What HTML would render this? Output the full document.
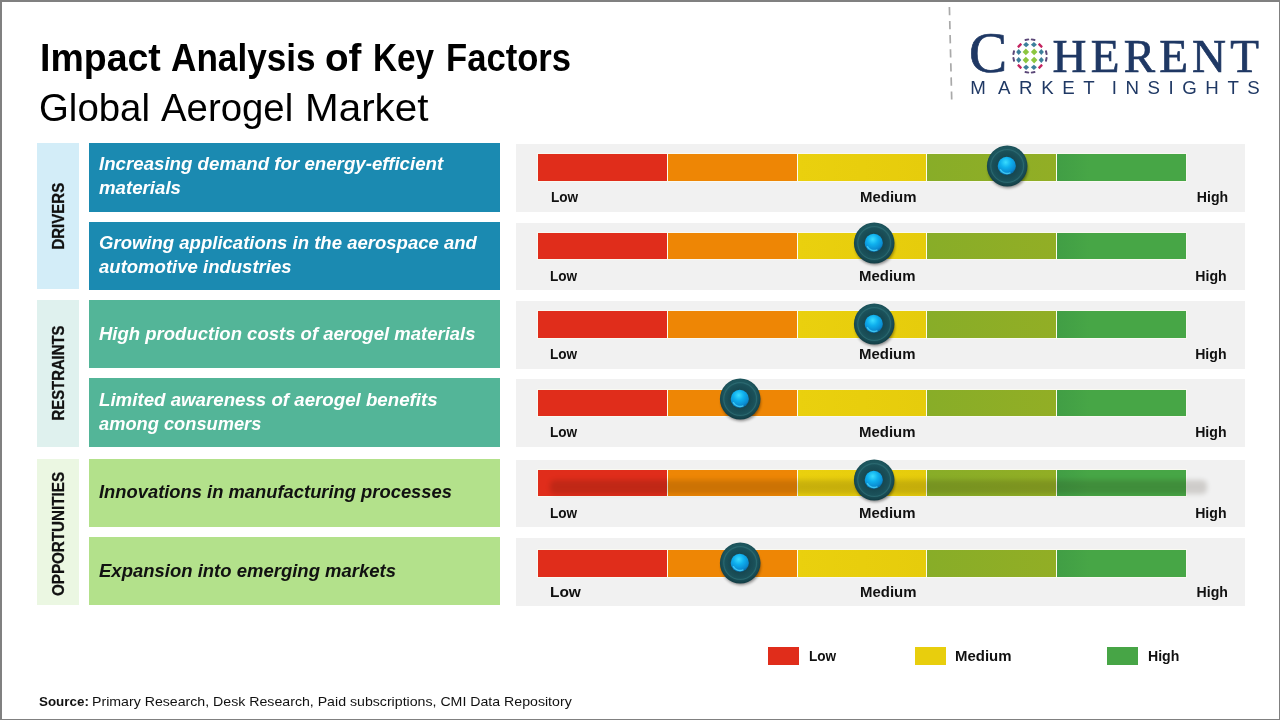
<!DOCTYPE html>
<html lang="en">
<head>
<meta charset="utf-8">
<title>Impact Analysis of Key Factors - Global Aerogel Market</title>
<style>
html,body{margin:0;padding:0;}
body{width:1280px;height:720px;position:relative;overflow:hidden;background:#fff;font-family:"Liberation Sans",sans-serif;color:#000;}
.abs{position:absolute;}
.frame{position:absolute;left:0;top:0;width:1280px;height:720px;box-sizing:border-box;border-style:solid;border-color:#808080;border-width:2px 1px 1px 2px;pointer-events:none;z-index:50;}
.t{position:absolute;white-space:nowrap;transform-origin:left top;line-height:1;}
#title{position:absolute;left:0;top:38.7px;font-size:38.6px;font-weight:bold;}
#subtitle{position:absolute;left:0;top:88.6px;font-size:38.2px;}
.cat{position:absolute;left:37.1px;width:41.8px;}
.cat span{position:absolute;left:50%;top:50%;white-space:nowrap;font-size:16.8px;font-weight:bold;-webkit-text-stroke:0.3px #111;line-height:1;transform:translate(calc(-50% + 1.3px),calc(-50% + var(--dy))) rotate(-90deg) scaleX(var(--k));color:#111;}
.lab{position:absolute;left:88.9px;width:411px;height:68px;}
.lab .t{left:10.2px;font-size:17.5px;transform:scaleX(1.062);font-weight:bold;font-style:italic;line-height:24px;}
.row{position:absolute;left:516.1px;width:728.6px;height:68px;background:#f1f1f1;}
.bar{position:absolute;left:538px;height:27px;width:648px;background:#fdfdf0;box-shadow:0 0 0 1px rgba(255,255,240,0.55);}
.bar i{position:absolute;top:0;height:100%;display:block;}
.s1{left:0;width:129px;background:#e02d1b;}
.s2{left:130px;width:128.5px;background:#ee8605;}
.s3{left:259.5px;width:128.5px;background:linear-gradient(90deg,#ead00e,#e6cc0c);}
.s4{left:389px;width:128.5px;background:linear-gradient(90deg,#88ad28,#92ae25);}
.s5{left:518.5px;width:129.5px;background:linear-gradient(90deg,#419e45,#47a646 25%);}
.lv{position:absolute;font-size:14.1px;font-weight:bold;white-space:nowrap;line-height:1;transform-origin:left top;color:#111;}
.lo{transform:scaleX(0.965);}.lo.big{font-size:15px;transform:scaleX(1.03);}.me{transform:scaleX(1.06);}.hi{transform:scaleX(1.0);}
.knob{position:absolute;width:48px;height:48px;margin:-24px 0 0 -24px;overflow:visible;}
.smear{position:absolute;left:550px;top:479.5px;width:657px;height:14px;background:#1a0d00;opacity:0.155;filter:blur(2.8px);border-radius:5px;}
.lg{font-family:"Liberation Serif",serif;color:#1f3864;-webkit-text-stroke:0.7px #1f3864;}
#lgC{left:969px;top:24.3px;font-size:58px;transform:scaleX(0.985);}
#lgH{left:1052.6px;top:33.2px;font-size:47px;transform:scaleX(1.0);letter-spacing:4.2px;}
#lgM{left:970.3px;top:79.4px;font-size:18.7px;color:#1f3864;letter-spacing:8.55px;}
.src{top:694.6px;font-size:13.2px;color:#111;}
</style>
</head>
<body>
<div id="title"><span class="t" style="left:39.76px;transform:scaleX(0.972)">Impact</span> <span class="t" style="left:170.7px;transform:scaleX(0.911)">Analysis</span> <span class="t" style="left:325.0px;transform:scaleX(1.001)">of</span> <span class="t" style="left:372.8px;transform:scaleX(0.864)">Key</span> <span class="t" style="left:446.01px;transform:scaleX(0.897)">Factors</span></div>
<div id="subtitle"><span class="t" style="left:38.5px;transform:scaleX(1.005)">Global</span> <span class="t" style="left:161.3px;transform:scaleX(1.004)">Aerogel</span> <span class="t" style="left:304.8px;transform:scaleX(1.058)">Market</span></div>

<!-- logo -->
<svg class="abs" style="left:940px;top:0" width="20" height="110"><line x1="9.4" y1="6.9" x2="11.7" y2="99.4" stroke="#a9a9a9" stroke-width="1.7" stroke-dasharray="8.3 5.8"/></svg>
<div class="t lg" id="lgC">C</div>
<div class="t lg" id="lgH">HERENT</div>
<div class="t" id="lgM"><span style="letter-spacing:12.2px">M</span>ARKET<span style="letter-spacing:3.4px"> </span>INSIGHTS</div>
<svg class="abs" id="globe" width="44" height="44" viewBox="-22 -22 44 44" style="left:1008.4px;top:33.8px"><path d="M-4.15 -7.3999999999999995L-0.8500000000000005 -4.1L-4.15 -0.7999999999999998L-7.45 -4.1Z" fill="#8cc640"/><path d="M-4.15 0.7999999999999998L-0.8500000000000005 4.1L-4.15 7.3999999999999995L-7.45 4.1Z" fill="#8cc640"/><path d="M4.15 -7.3999999999999995L7.45 -4.1L4.15 -0.7999999999999998L0.8500000000000005 -4.1Z" fill="#8cc640"/><path d="M4.15 0.7999999999999998L7.45 4.1L4.15 7.3999999999999995L0.8500000000000005 4.1Z" fill="#8cc640"/><path d="M-3.9 -13.9L-0.8999999999999999 -11.3L-3.9 -8.700000000000001L-6.9 -11.3Z" fill="#3d7f9b"/><path d="M-11.3 -6.9L-8.700000000000001 -3.9L-11.3 -0.8999999999999999L-13.9 -3.9Z" fill="#3d7f9b"/><path d="M-3.9 8.700000000000001L-0.8999999999999999 11.3L-3.9 13.9L-6.9 11.3Z" fill="#3d7f9b"/><path d="M-11.3 0.8999999999999999L-8.700000000000001 3.9L-11.3 6.9L-13.9 3.9Z" fill="#3d7f9b"/><path d="M3.9 -13.9L6.9 -11.3L3.9 -8.700000000000001L0.8999999999999999 -11.3Z" fill="#3d7f9b"/><path d="M11.3 -6.9L13.9 -3.9L11.3 -0.8999999999999999L8.700000000000001 -3.9Z" fill="#3d7f9b"/><path d="M3.9 8.700000000000001L6.9 11.3L3.9 13.9L0.8999999999999999 11.3Z" fill="#3d7f9b"/><path d="M11.3 0.8999999999999999L13.9 3.9L11.3 6.9L8.700000000000001 3.9Z" fill="#3d7f9b"/><rect x="-2.5" y="-1.2" width="5.0" height="2.4" rx="0.6" fill="#c4245f" transform="translate(-10.4 -10.5) rotate(-44.725859606266766)"/><rect x="-2.5" y="-1.2" width="5.0" height="2.4" rx="0.6" fill="#c4245f" transform="translate(-10.4 10.5) rotate(224.72585960626677)"/><rect x="-2.5" y="-1.2" width="5.0" height="2.4" rx="0.6" fill="#c4245f" transform="translate(10.4 -10.5) rotate(44.72585960626678)"/><rect x="-2.5" y="-1.2" width="5.0" height="2.4" rx="0.6" fill="#c4245f" transform="translate(10.4 10.5) rotate(135.2741403937332)"/><rect x="-2.3" y="-1.0" width="4.6" height="2.0" rx="0.6" fill="#5b4778" transform="translate(-3.1 -16.3) rotate(-10.768144561107846)"/><rect x="-2.3" y="-1.0" width="4.6" height="2.0" rx="0.6" fill="#5b4778" transform="translate(-16.3 -3.3) rotate(-78.554936221079)"/><rect x="-2.3" y="-1.0" width="4.6" height="2.0" rx="0.6" fill="#5b4778" transform="translate(-3.1 16.3) rotate(190.76814456110785)"/><rect x="-2.3" y="-1.0" width="4.6" height="2.0" rx="0.6" fill="#5b4778" transform="translate(-16.3 3.3) rotate(258.554936221079)"/><rect x="-2.3" y="-1.0" width="4.6" height="2.0" rx="0.6" fill="#5b4778" transform="translate(3.1 -16.3) rotate(10.768144561107832)"/><rect x="-2.3" y="-1.0" width="4.6" height="2.0" rx="0.6" fill="#5b4778" transform="translate(16.3 -3.3) rotate(78.55493622107899)"/><rect x="-2.3" y="-1.0" width="4.6" height="2.0" rx="0.6" fill="#5b4778" transform="translate(3.1 16.3) rotate(169.23185543889218)"/><rect x="-2.3" y="-1.0" width="4.6" height="2.0" rx="0.6" fill="#5b4778" transform="translate(16.3 3.3) rotate(101.44506377892101)"/></svg>

<!-- categories -->
<div class="cat" style="top:143.3px;height:146.2px;background:#d3edf8"><span style="--k:0.894;--dy:0.2px">DRIVERS</span></div>
<div class="cat" style="top:300px;height:146.8px;background:#dff1ee"><span style="--k:0.884;--dy:0px">RESTRAINTS</span></div>
<div class="cat" style="top:459.3px;height:145.6px;background:#ebf7e2"><span style="--k:0.906;--dy:2px">OPPORTUNITIES</span></div>

<!-- labels -->
<div class="lab" style="top:143.2px;height:68.55px;background:#1b8ab1;color:#fff"><div class="t" style="top:9.10px;transform:scaleX(1.067)">Increasing demand for energy-efficient<br>materials</div></div>
<div class="lab" style="top:221.9px;height:67.80px;background:#1b8ab1;color:#fff"><div class="t" style="top:9.50px;transform:scaleX(1.059)">Growing applications in the aerospace and<br>automotive industries</div></div>
<div class="lab" style="top:300.1px;height:67.70px;background:#53b598;color:#fff"><div class="t" style="top:21.90px;transform:scaleX(1.058)">High production costs of aerogel materials</div></div>
<div class="lab" style="top:378.1px;height:68.65px;background:#53b598;color:#fff"><div class="t" style="top:10.30px;transform:scaleX(1.068)">Limited awareness of aerogel benefits<br><span style="display:inline-block;transform-origin:left;transform:scaleX(0.977)">among consumers</span></div></div>
<div class="lab" style="top:459.1px;height:67.65px;background:#b3e18b;color:#111"><div class="t" style="top:21.40px;transform:scaleX(1.049)">Innovations in manufacturing processes</div></div>
<div class="lab" style="top:537px;height:67.70px;background:#b3e18b;color:#111"><div class="t" style="top:21.50px;transform:scaleX(1.057)">Expansion into emerging markets</div></div>
<div class="row" style="top:143.9px;height:68.00px"></div>
<div class="bar" style="top:154px;height:27.0px"><i class="s1"></i><i class="s2"></i><i class="s3"></i><i class="s4"></i><i class="s5"></i></div>
<div class="lv lo" style="left:550.8px;top:190.10px">Low</div><div class="lv me" style="left:859.8px;top:190.10px">Medium</div><div class="lv hi" style="left:1196.8px;top:190.10px">High</div>
<svg class="knob" style="left:1007.2px;top:165.5px" viewBox="-24 -24 48 48"><use href="#kn"/></svg>
<div class="row" style="top:223px;height:66.90px"></div>
<div class="bar" style="top:233.1px;height:26.2px"><i class="s1"></i><i class="s2"></i><i class="s3"></i><i class="s4"></i><i class="s5"></i></div>
<div class="lv lo" style="left:549.6px;top:268.50px">Low</div><div class="lv me" style="left:859.3px;top:268.50px">Medium</div><div class="lv hi" style="left:1195.3px;top:268.50px">High</div>
<svg class="knob" style="left:874px;top:242.5px" viewBox="-24 -24 48 48"><use href="#kn"/></svg>
<div class="row" style="top:301.1px;height:67.65px"></div>
<div class="bar" style="top:311.1px;height:26.9px"><i class="s1"></i><i class="s2"></i><i class="s3"></i><i class="s4"></i><i class="s5"></i></div>
<div class="lv lo" style="left:549.8px;top:346.85px">Low</div><div class="lv me" style="left:859.0px;top:346.85px">Medium</div><div class="lv hi" style="left:1195.2px;top:346.85px">High</div>
<svg class="knob" style="left:874px;top:324px" viewBox="-24 -24 48 48"><use href="#kn"/></svg>
<div class="row" style="top:379.1px;height:67.65px"></div>
<div class="bar" style="top:390.2px;height:25.8px"><i class="s1"></i><i class="s2"></i><i class="s3"></i><i class="s4"></i><i class="s5"></i></div>
<div class="lv lo" style="left:549.7px;top:424.90px">Low</div><div class="lv me" style="left:859.2px;top:424.90px">Medium</div><div class="lv hi" style="left:1195.2px;top:424.90px">High</div>
<svg class="knob" style="left:740px;top:399px" viewBox="-24 -24 48 48"><use href="#kn"/></svg>
<div class="row" style="top:460px;height:66.75px"></div>
<div class="bar" style="top:470.1px;height:26.2px"><i class="s1"></i><i class="s2"></i><i class="s3"></i><i class="s4"></i><i class="s5"></i></div>
<div class="smear"></div>
<div class="lv lo" style="left:549.8px;top:505.90px">Low</div><div class="lv me" style="left:859.2px;top:505.90px">Medium</div><div class="lv hi" style="left:1195.2px;top:505.90px">High</div>
<svg class="knob" style="left:874px;top:480px" viewBox="-24 -24 48 48"><use href="#kn"/></svg>
<div class="row" style="top:538.1px;height:67.50px"></div>
<div class="bar" style="top:550.2px;height:26.6px"><i class="s1"></i><i class="s2"></i><i class="s3"></i><i class="s4"></i><i class="s5"></i></div>
<div class="lv lo big" style="left:549.9px;top:583.90px">Low</div><div class="lv me" style="left:859.5px;top:584.70px">Medium</div><div class="lv hi" style="left:1196.6px;top:584.70px">High</div>
<svg class="knob" style="left:740px;top:562.5px" viewBox="-24 -24 48 48"><use href="#kn"/></svg>
<!-- legend -->
<div class="abs" style="left:768px;top:647px;width:31px;height:18px;background:#e02d1b"></div>
<div class="lv lo" style="left:809px;top:648.9px">Low</div>
<div class="abs" style="left:915px;top:647px;width:31px;height:18px;background:#e8ce0d"></div>
<div class="lv me" style="left:955.0px;top:648.9px">Medium</div>
<div class="abs" style="left:1107px;top:647px;width:31px;height:18px;background:#47a546"></div>
<div class="lv hi" style="left:1148px;top:648.9px">High</div>

<div class="t src" style="left:39.3px;font-weight:bold;transform:scaleX(1.015)">Source:</div><div class="t src" style="left:91.6px;transform:scaleX(1.073)">Primary Research, Desk Research, Paid subscriptions, CMI Data Repository</div>

<svg width="0" height="0" style="position:absolute">
<defs>
<radialGradient id="kg1" cx="50%" cy="45%" r="55%"><stop offset="0" stop-color="#256169"/><stop offset="0.75" stop-color="#1d565e"/><stop offset="1" stop-color="#123c44"/></radialGradient>
<radialGradient id="kg2" cx="50%" cy="50%" r="50%"><stop offset="0" stop-color="#123a44"/><stop offset="0.7" stop-color="#184a53"/><stop offset="1" stop-color="#1b525b"/></radialGradient>
<radialGradient id="kg3" cx="44%" cy="30%" r="72%"><stop offset="0" stop-color="#3adcff"/><stop offset="0.4" stop-color="#0fb0ee"/><stop offset="0.8" stop-color="#0a8ad0"/><stop offset="1" stop-color="#0a5f94"/></radialGradient>
<filter id="ksh" x="-50%" y="-50%" width="200%" height="200%"><feGaussianBlur stdDeviation="1.6"/></filter>
<filter id="kb" x="-50%" y="-50%" width="200%" height="200%"><feGaussianBlur stdDeviation="0.5"/></filter>
<g id="kn">
<ellipse cx="1" cy="3" rx="19.5" ry="19" fill="#000" opacity="0.45" filter="url(#ksh)"/>
<ellipse cx="0.2" cy="0" rx="20.3" ry="20.55" fill="url(#kg1)"/>
<circle cx="0.2" cy="0" r="16.4" fill="none" stroke="#2d6c73" stroke-width="1.1" opacity="0.8"/>
<circle cx="0.1" cy="0" r="15.4" fill="url(#kg2)"/>
<circle cx="-0.2" cy="-0.1" r="9.1" fill="url(#kg3)"/>
<path d="M-6.6 3.6A7.6 7.6 0 0 0 3 6.9" fill="none" stroke="#4fdcff" stroke-width="1.3" stroke-linecap="round" opacity="0.75" filter="url(#kb)"/>
</g>
</defs>
</svg>
<div class="frame"></div>
</body>
</html>
